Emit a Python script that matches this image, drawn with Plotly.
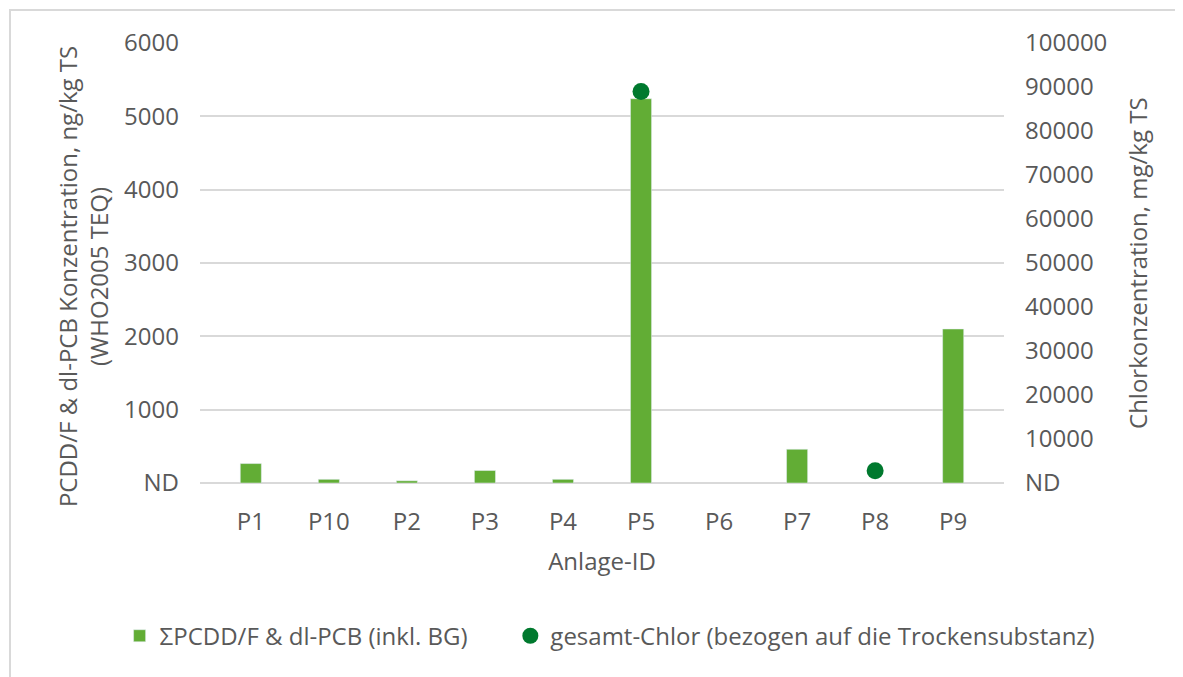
import plotly.graph_objects as go

anlagen = ["P1", "P10", "P2", "P3", "P4", "P5", "P6", "P7", "P8", "P9"]
pcdd_teq = [265, 50, 30, 170, 50, 5240, None, 460, None, 2100]
gesamt_chlor = [None, None, None, None, None, 89000, None, None, 2800, None]

left_ticks = [0, 1000, 2000, 3000, 4000, 5000, 6000]
left_labels = ["ND", "1000", "2000", "3000", "4000", "5000", "6000"]
right_ticks = [0, 10000, 20000, 30000, 40000, 50000, 60000, 70000, 80000, 90000, 100000]
right_labels = ["ND", "10000", "20000", "30000", "40000", "50000",
                "60000", "70000", "80000", "90000", "100000"]

FONT = "Open Sans, Noto Sans, sans-serif"
GREY = "#595959"
GRID = "#D9D9D9"
FS = 24

fig = go.Figure()

fig.add_trace(go.Bar(
    x=anlagen, y=pcdd_teq,
    name="ΣPCDD/F & dl-PCB (inkl. BG)",
    marker=dict(color="#62AD35"),
    yaxis="y", legend="legend",
))

fig.add_trace(go.Scatter(
    x=anlagen, y=gesamt_chlor,
    name="gesamt-Chlor (bezogen auf die Trockensubstanz)",
    mode="markers",
    marker=dict(color="#00792E", size=17),
    yaxis="y2", legend="legend2",
))

legend_style = dict(orientation="h", xanchor="left", y=-0.348, yanchor="middle",
                    font=dict(size=FS, color=GREY), itemwidth=30,
                    bgcolor="rgba(0,0,0,0)")

# axis titles as rotated annotations so they sit where the original has them
axis_titles = [
    dict(text="PCDD/F & dl-PCB Konzentration, ng/kg TS<br>(WHO2005 TEQ)",
         x=-0.1455, y=0.468),
    dict(text="Chlorkonzentration, mg/kg TS", x=1.1654, y=0.5),
]

# page body has an 8px margin, so the figure is drawn 8px smaller and shifted
fig.update_layout(
    width=1175, height=669,
    margin=dict(l=192, r=179, t=35, b=194, autoexpand=False),
    paper_bgcolor="white", plot_bgcolor="white",
    font=dict(family=FONT, size=FS, color=GREY),
    bargap=0.73,
    showlegend=True,
    legend=dict(x=-0.1, **legend_style),
    legend2=dict(x=0.386, **legend_style),
    xaxis=dict(
        title=dict(text="Anlage-ID", standoff=17, font=dict(size=FS, color=GREY)),
        showgrid=False, showline=False, zeroline=False, automargin=False,
        tickfont=dict(size=FS, color=GREY), ticklabelstandoff=22,
    ),
    yaxis=dict(
        range=[0, 6000], tickvals=left_ticks, ticktext=left_labels,
        showgrid=True, gridcolor=GRID, gridwidth=2,
        zeroline=True, zerolinecolor=GRID, zerolinewidth=2,
        showline=False, automargin=False, tickfont=dict(size=FS, color=GREY),
        ticklabelstandoff=20,
    ),
    yaxis2=dict(
        overlaying="y", side="right",
        range=[0, 100000], tickvals=right_ticks, ticktext=right_labels,
        showgrid=False, zeroline=False, showline=False, automargin=False,
        tickfont=dict(size=FS, color=GREY), ticklabelstandoff=20,
    ),
    annotations=[dict(text=t["text"], textangle=-90, xref="paper", yref="paper",
                      x=t["x"], y=t["y"], xanchor="center", yanchor="middle",
                      showarrow=False, font=dict(size=FS, color=GREY))
                 for t in axis_titles],
    shapes=[dict(type="rect", xref="paper", yref="paper",
                 x0=-0.2363, x1=1.4, y0=-0.6, y1=1.075,
                 line=dict(color=GRID, width=2), layer="below")],
)

fig.write_html("out.html")
